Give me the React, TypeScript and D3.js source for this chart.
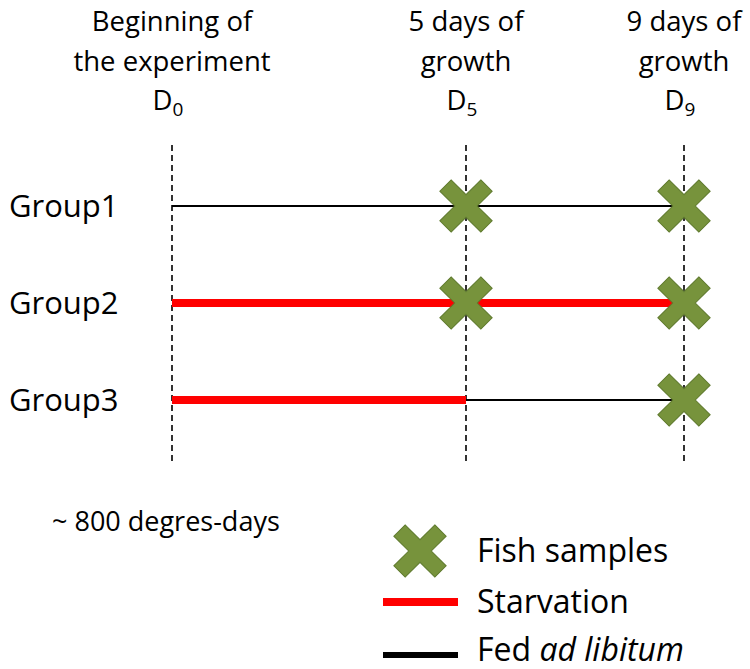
import React from "react";
import { scaleLinear, scalePoint, line } from "d3";

// time points (days) and their header labels
const days = [0, 5, 9];
const headerTop = ["Beginning of", "5 days of", "9 days of"];
const headerMid = ["the experiment", "growth", "growth"];
const headerSub = ["0", "5", "9"];

const groups = ["Group1", "Group2", "Group3"];
// [start day, end day] of each period, per group
const starvation = [null, [0, 9], [0, 5]];
const fed = [[0, 9], null, [5, 9]];
const samples = [[5, 9], [5, 9], [9]];

const legendLabels = ["Fish samples", "Starvation", "Fed"];

const RED = "#ff0000";
const GREEN = "#77933c";
const FONT = "'Open Sans', sans-serif";

// plus shape rotated 45deg -> X
function crossPath(a: number, L: number) {
  const pts: [number, number][] = [
    [-a, -L], [a, -L], [a, -a], [L, -a], [L, a], [a, a],
    [a, L], [-a, L], [-a, a], [-L, a], [-L, -a], [-a, -a],
  ];
  return line()(pts) + "Z";
}

export default function App() {
  const width = 750;
  const height = 669;

  const x = scaleLinear().domain(days).range([172, 466, 684]);
  const y = scalePoint<string>().domain(groups).range([206, 400]);
  const cross = crossPath(8, 29);

  return (
    <>
      <style>{"body{margin:0}"}</style>
      <svg width={width} height={height} style={{ display: "block" }} fontFamily={FONT}>
        {/* headers */}
        {days.map((d, i) => (
          <g key={"h" + d} textAnchor="middle" fontSize={27.5} fill="#000">
            <text x={x(d)} y={31}>{headerTop[i]}</text>
            <text x={x(d)} y={71}>{headerMid[i]}</text>
            <text x={x(d) - 4} y={110}>
              D<tspan fontSize={19} dy={6}>{headerSub[i]}</tspan>
            </text>
          </g>
        ))}

        {/* dashed guides */}
        {days.map(d => (
          <line key={"v" + d} x1={x(d)} x2={x(d)} y1={145} y2={462}
            stroke="#000" strokeWidth={1.6} strokeDasharray="6,4" />
        ))}

        {groups.map((g, i) => (
          <g key={g}>
            <text x={9} y={(y(g) ?? 0) + 11} fontSize={31}>{g}</text>
            {fed[i] && (
              <line x1={x(fed[i]![0])} x2={x(fed[i]![1])} y1={y(g)} y2={y(g)}
                stroke="#000" strokeWidth={2} />
            )}
            {starvation[i] && (
              <line x1={x(starvation[i]![0])} x2={x(starvation[i]![1])} y1={y(g)} y2={y(g)}
                stroke={RED} strokeWidth={8} />
            )}
            {samples[i].map(d => (
              <path key={d} d={cross} transform={`translate(${x(d)},${y(g)}) rotate(45)`}
                fill={GREEN} stroke="#5f7a2e" strokeWidth={1} />
            ))}
          </g>
        ))}

        <text x={52} y={531} fontSize={27}>~ 800 degres-days</text>

        {/* legend */}
        <g fontSize={32}>
          <path d={cross} transform="translate(420,551) rotate(45)" fill={GREEN}
            stroke="#5f7a2e" strokeWidth={1} />
          <text x={477} y={562}>{legendLabels[0]}</text>
          <line x1={383} x2={458} y1={602} y2={602} stroke={RED} strokeWidth={8} />
          <text x={477} y={613}>{legendLabels[1]}</text>
          <line x1={383} x2={458} y1={655} y2={655} stroke="#000" strokeWidth={6} />
          <text x={477} y={661}>{legendLabels[2]} <tspan fontStyle="italic">ad libitum</tspan></text>
        </g>
      </svg>
    </>
  );
}
